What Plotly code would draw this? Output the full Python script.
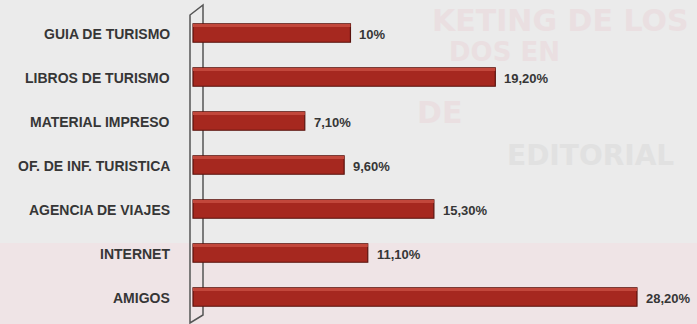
import plotly.graph_objects as go

categories = ["GUIA DE TURISMO", "LIBROS DE TURISMO", "MATERIAL IMPRESO",
              "OF. DE INF. TURISTICA", "AGENCIA DE VIAJES", "INTERNET", "AMIGOS"]
values = [10.0, 19.2, 7.1, 9.6, 15.3, 11.1, 28.2]
value_labels = ["10%", "19,20%", "7,10%", "9,60%", "15,30%", "11,10%", "28,20%"]

W, H = 697, 324
BG = "#ebebeb"
BAR = "#a6281f"
BAR_EDGE = "#5a130e"
TXT = "#363636"

fig = go.Figure()
fig.add_trace(go.Bar(
    y=categories, x=values, orientation="h",
    marker=dict(color=BAR, line=dict(color=BAR_EDGE, width=1.2)),
    width=0.42, hoverinfo="skip", showlegend=False,
))
# lighter top strip to suggest the 3D bar top
fig.add_trace(go.Bar(
    y=categories, x=values, orientation="h",
    marker=dict(color="#c2473b", line=dict(width=0)),
    width=0.07, offset=-0.205, hoverinfo="skip", showlegend=False,
))

annotations = []
for c, v, t in zip(categories, values, value_labels):
    annotations.append(dict(x=v, y=c, xref="x", yref="y", text=t, showarrow=False,
                            xanchor="left", xshift=7, yshift=-1,
                            font=dict(family="Liberation Sans", size=13, color=TXT, weight="bold")))
    annotations.append(dict(x=0, y=c, xref="x", yref="y", text=c, showarrow=False,
                            xanchor="right", xshift=-21, yshift=-1,
                            font=dict(family="Liberation Sans", size=14, color=TXT, weight="bold")))

# faint background print
bg_text = [("KETING DE LOS", 560, 20, 30, "#eadfe1"),
           ("DOS EN", 505, 52, 26, "#eadfe1"),
           ("DE", 440, 112, 30, "#eadfe1"),
           ("EDITORIAL", 590, 155, 28, "#e1e1e1")]
for t, px, py, fs, col in bg_text:
    annotations.append(dict(x=px / W, y=1 - py / H, xref="paper", yref="paper", text=t,
                            showarrow=False, xanchor="center", yanchor="middle",
                            font=dict(family="DejaVu Sans", size=fs, color=col, weight="bold")))

def px2p(x, y):
    return x / W, 1 - y / H

shapes = [
    dict(type="rect", xref="paper", yref="paper", x0=0, x1=1, y0=0, y1=1 - 243 / H,
         fillcolor="#efe4e6", line=dict(width=0), layer="below"),
]
pts = [(190, 15), (203, 5), (203, 315), (190, 323)]
path = "M " + " L ".join(f"{px2p(x, y)[0]},{px2p(x, y)[1]}" for x, y in pts) + " Z"
shapes.append(dict(type="path", xref="paper", yref="paper", path=path,
                   line=dict(color="#555555", width=1.5), fillcolor="rgba(0,0,0,0)", layer="below"))

px_per = (637 - 193) / 28.2
x0 = -193 / px_per
x1 = (W - 193) / px_per
fig.update_layout(
    width=W, height=H, margin=dict(l=0, r=0, t=0, b=0),
    paper_bgcolor=BG, plot_bgcolor="rgba(0,0,0,0)",
    xaxis=dict(range=[x0, x1], visible=False, fixedrange=True),
    yaxis=dict(type="category", categoryorder="array", categoryarray=categories,
               range=[(H - 33) / 44, -33 / 44], visible=False, fixedrange=True),
    barmode="overlay", annotations=annotations, shapes=shapes,
)
fig.write_html("out.html")
